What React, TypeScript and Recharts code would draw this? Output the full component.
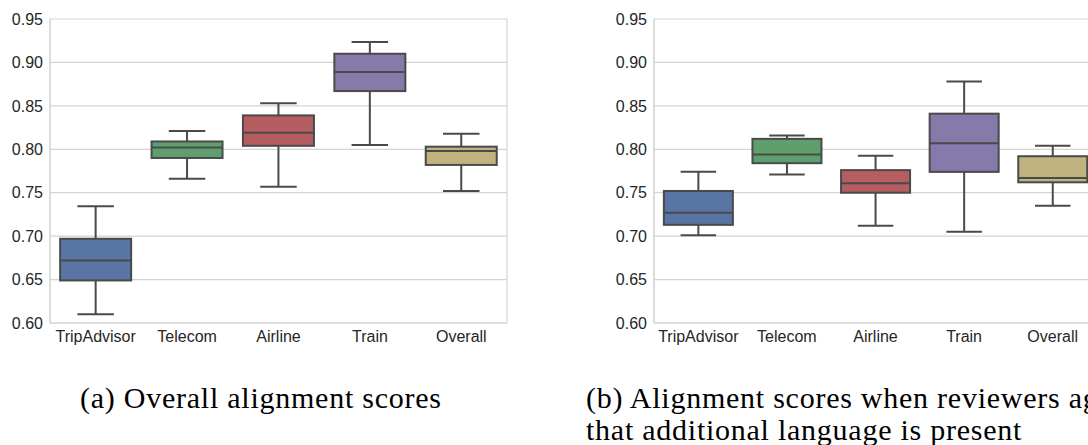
import { BarChart, Bar, XAxis, YAxis, CartesianGrid } from "recharts"

// categories and box colors (seaborn "deep", desaturated)
const categories = ["TripAdvisor", "Telecom", "Airline", "Train", "Overall"]
const colors = ["#5875A3", "#5F9E6D", "#B55D60", "#857AAA", "#C1B37F"]
const yTicks = [0.6, 0.65, 0.7, 0.75, 0.8, 0.85, 0.9, 0.95]

// (a) Overall alignment scores
const aMin = [0.61, 0.766, 0.757, 0.805, 0.752]
const aQ1 = [0.649, 0.79, 0.804, 0.867, 0.782]
const aMed = [0.672, 0.802, 0.819, 0.889, 0.798]
const aQ3 = [0.697, 0.809, 0.839, 0.91, 0.803]
const aMax = [0.7345, 0.821, 0.853, 0.9235, 0.818]

// (b) Alignment scores when reviewers agree
const bMin = [0.701, 0.771, 0.712, 0.705, 0.735]
const bQ1 = [0.713, 0.784, 0.75, 0.774, 0.762]
const bMed = [0.727, 0.794, 0.761, 0.807, 0.767]
const bQ3 = [0.752, 0.812, 0.776, 0.841, 0.792]
const bMax = [0.774, 0.816, 0.7925, 0.878, 0.804]

const build = (mn: number[], q1: number[], med: number[], q3: number[], mx: number[]) =>
  categories.map((name, i) => ({
    name,
    min: mn[i],
    q1: q1[i],
    median: med[i],
    q3: q3[i],
    max: mx[i],
    range: [mn[i], mx[i]],
  }))

const dataA = build(aMin, aQ1, aMed, aQ3, aMax)
const dataB = build(bMin, bQ1, bMed, bQ3, bMax)

const LINE = "#4a4a4a"
const GRID = "#d4d4d4"

// the bar spans min..max, so the box parts are placed inside it
const BoxShape = (props: any) => {
  const { x, y, width, height, payload, index } = props
  const top = Math.min(y, y + height)
  const bottom = Math.max(y, y + height)
  const span = payload.max - payload.min
  const py = (v: number) => bottom - ((v - payload.min) / span) * (bottom - top)
  const cx = x + width / 2
  const cap = width / 4
  return (
    <g>
      <line x1={cx} x2={cx} y1={py(payload.max)} y2={py(payload.q3)} stroke={LINE} strokeWidth={2} />
      <line x1={cx} x2={cx} y1={py(payload.q1)} y2={py(payload.min)} stroke={LINE} strokeWidth={2} />
      <line x1={cx - cap} x2={cx + cap} y1={py(payload.max)} y2={py(payload.max)} stroke={LINE} strokeWidth={2} />
      <line x1={cx - cap} x2={cx + cap} y1={py(payload.min)} y2={py(payload.min)} stroke={LINE} strokeWidth={2} />
      <rect
        x={x + 1}
        y={py(payload.q3)}
        width={width - 2}
        height={py(payload.q1) - py(payload.q3)}
        fill={colors[index]}
        stroke={LINE}
        strokeWidth={2}
      />
      <line x1={x + 1} x2={x + width - 1} y1={py(payload.median)} y2={py(payload.median)} stroke={LINE} strokeWidth={2} />
    </g>
  )
}

function BoxPanel({ data, width }: { data: any[]; width: number }) {
  return (
    <BarChart
      width={width}
      height={350}
      data={data}
      margin={{ top: 19, right: 13, bottom: 0, left: 0 }}
      barCategoryGap="10%"
    >
      <CartesianGrid
        stroke={GRID}
        strokeWidth={1.2}
        vertical={true}
        verticalCoordinatesGenerator={({ offset }: any) => [offset.left, offset.left + offset.width]}
      />
      <XAxis
        dataKey="name"
        height={27}
        tickLine={false}
        tickSize={0}
        tickMargin={8}
        axisLine={{ stroke: GRID, strokeWidth: 1.2 }}
        tick={{ fill: "#262626", fontSize: 16, fontFamily: "Liberation Sans, Arial, sans-serif" }}
      />
      <YAxis
        width={50}
        domain={[0.6, 0.95]}
        ticks={yTicks}
        tickFormatter={(v: number) => v.toFixed(2)}
        tickLine={false}
        tickSize={0}
        tickMargin={7}
        axisLine={{ stroke: GRID, strokeWidth: 1.2 }}
        tick={{ fill: "#262626", fontSize: 16, fontFamily: "Liberation Sans, Arial, sans-serif" }}
        allowDataOverflow
      />
      <Bar dataKey="range" shape={<BoxShape />} isAnimationActive={false} />
    </BarChart>
  )
}

const captionStyle: React.CSSProperties = {
  position: "absolute",
  fontFamily: "Liberation Serif, serif",
  fontSize: 30,
  lineHeight: "32px",
  letterSpacing: "0.75px",
  color: "#000",
  whiteSpace: "nowrap",
}

export default function App() {
  return (
    <div
      style={{
        position: "fixed",
        left: 0,
        top: 0,
        width: 1088,
        height: 445,
        overflow: "hidden",
        background: "#fff",
      }}
    >
      <div style={{ position: "absolute", left: 0, top: 0 }}>
        <BoxPanel data={dataA} width={520} />
      </div>
      <div style={{ position: "absolute", left: 604, top: 0 }}>
        <BoxPanel data={dataB} width={506} />
      </div>
      <div style={{ ...captionStyle, left: 80, top: 382 }}>(a) Overall alignment scores</div>
      <div style={{ ...captionStyle, left: 586, top: 382 }}>
        (b) Alignment scores when reviewers agree
        <br />
        that additional language is present
      </div>
    </div>
  )
}
